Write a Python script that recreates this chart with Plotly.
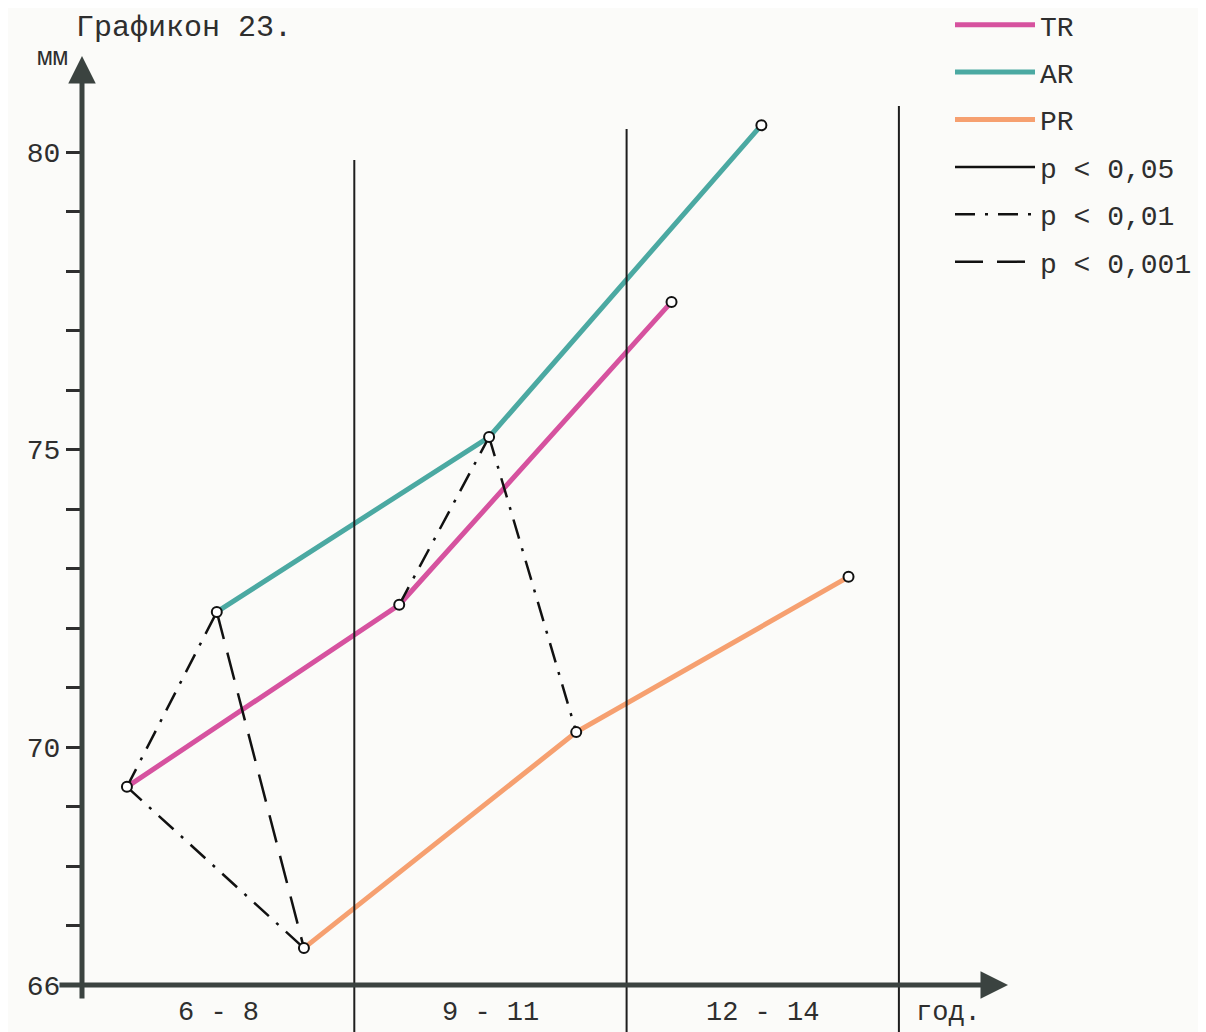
import plotly.graph_objects as go

# --- data (values in mm) ---
GROUPS = ["6 - 8", "9 - 11", "12 - 14"]
TR = [69.33, 72.39, 77.48]
AR = [72.27, 75.21, 80.45]
PR = [66.62, 70.25, 72.86]

Y_TICKS = list(range(66, 81))
Y_TICK_LABELS = ["66", "", "", "", "70", "", "", "", "", "75", "", "", "", "", "80"]

# significance links inside an age group: from series -> to series, level
LINK_GROUP = [0, 0, 0, 1, 1]
LINK_FROM = ["TR", "AR", "TR", "TR", "AR"]
LINK_TO = ["AR", "PR", "PR", "AR", "PR"]
LINK_LEVEL = ["p < 0,01", "p < 0,001", "p < 0,01", "p < 0,01", "p < 0,01"]
P_LEVELS = ["p < 0,05", "p < 0,01", "p < 0,001"]

SERIES = {"TR": TR, "AR": AR, "PR": PR}
COLORS = {"TR": "#d6529f", "AR": "#4ba9a2", "PR": "#f6a070"}
OFFSETS = {"TR": -0.335, "AR": -0.005, "PR": 0.315}
DASHES = {"p < 0,05": "solid", "p < 0,01": "20px,10px,3px,10px", "p < 0,001": "28px,14px"}

FONT = "Liberation Mono"
INK = "#2e2e2e"
AXIS = "#3b4340"
BG = "#fbfbf9"

# the page has an 8px body margin, so the figure is drawn 8px in from the
# screenshot's corner; helpers below work in screenshot pixels.
PAGE = 8
W, H = 1206 - PAGE, 1032 - PAGE
PLOT_L, PLOT_T = 82, 40            # screenshot px of plot area corner
PLOT_W, PLOT_H = 1206 - PLOT_L, 1032 - PLOT_T
PX_PER_X = 272.3
PX_PER_Y = 59.5


def px2x(px):
    return -0.5 + (px - 82) / PX_PER_X


def py2y(py):
    return 66 + (985 - py) / PX_PER_Y


def paper_x(px):
    return (px - PLOT_L) / PLOT_W


def paper_y(py):
    return (1032 - py) / PLOT_H


def xs(name):
    return [i + OFFSETS[name] for i in range(len(GROUPS))]


fig = go.Figure()

for name, vals in SERIES.items():
    fig.add_trace(go.Scatter(
        x=xs(name), y=vals, mode="lines", name=name, legendgroup=name,
        line={"color": COLORS[name], "width": 5},
        hoverinfo="skip",
    ))

for lvl in P_LEVELS:
    fig.add_trace(go.Scatter(
        x=[None], y=[None], mode="lines", name=lvl, legendgroup=lvl,
        line={"color": "#111", "width": 2.5, "dash": DASHES[lvl]},
    ))

for g, a, b, lvl in zip(LINK_GROUP, LINK_FROM, LINK_TO, LINK_LEVEL):
    fig.add_trace(go.Scatter(
        x=[g + OFFSETS[a], g + OFFSETS[b]],
        y=[SERIES[a][g], SERIES[b][g]],
        mode="lines", showlegend=False, legendgroup=lvl,
        line={"color": "#111", "width": 2.5, "dash": DASHES[lvl]},
        hoverinfo="skip",
    ))

for name, vals in SERIES.items():
    fig.add_trace(go.Scatter(
        x=xs(name), y=vals, mode="markers", showlegend=False,
        marker={"symbol": "circle", "size": 10, "color": "white",
                "line": {"color": "#111", "width": 2}},
        hovertemplate=name + ": %{y} мм<extra></extra>",
    ))

# group separators
tops = [py2y(160), py2y(129), py2y(106)]
for i, top in enumerate(tops):
    fig.add_shape(type="line", x0=i + 0.5, x1=i + 0.5, y0=py2y(1040), y1=top,
                  line={"color": "#1e1e1e", "width": 2})

annotations = [
    # axes with arrowheads
    dict(x=-0.5, y=py2y(56), ax=-0.5, ay=py2y(1000), axref="x", ayref="y",
         showarrow=True, arrowhead=2, arrowsize=1.1, arrowwidth=5, arrowcolor=AXIS, text=""),
    dict(x=px2x(1008), y=66, ax=px2x(58), ay=66, axref="x", ayref="y",
         showarrow=True, arrowhead=2, arrowsize=1.1, arrowwidth=5, arrowcolor=AXIS, text=""),
    dict(x=paper_x(74), y=paper_y(28), xref="paper", yref="paper", text="Графикон 23.",
         xanchor="left", yanchor="middle", showarrow=False,
         font={"family": FONT, "size": 30, "color": INK}),
    dict(x=paper_x(70), y=paper_y(58), xref="paper", yref="paper", text="мм",
         xanchor="right", yanchor="middle", showarrow=False,
         font={"family": FONT, "size": 26, "color": INK}),
    dict(x=px2x(948), y=py2y(1013), text="год.", showarrow=False,
         font={"family": FONT, "size": 27, "color": INK}),
]
for i, g in enumerate(GROUPS):
    annotations.append(dict(x=i, y=py2y(1013), text=g, showarrow=False,
                            font={"family": FONT, "size": 27, "color": INK}))

fig.update_layout(
    width=W,
    height=H,
    margin={"l": PLOT_L - PAGE, "r": 0, "t": PLOT_T - PAGE, "b": 0, "autoexpand": False},
    paper_bgcolor=BG,
    plot_bgcolor=BG,
    font={"family": FONT, "size": 28, "color": INK},
    xaxis={"range": [-0.5, px2x(1206)], "visible": False},
    yaxis={
        "range": [py2y(1032), py2y(PLOT_T)],
        "tickvals": Y_TICKS,
        "ticktext": Y_TICK_LABELS,
        "ticks": "outside",
        "ticklen": 15,
        "tickwidth": 2.5,
        "tickcolor": INK,
        "showgrid": False,
        "zeroline": False,
        "showline": False,
        "tickfont": {"family": FONT, "size": 28, "color": INK},
    },
    legend={
        "x": paper_x(950), "y": paper_y(0),
        "xanchor": "left", "yanchor": "top",
        "bgcolor": "rgba(0,0,0,0)",
        "itemwidth": 80,
        "tracegroupgap": 8,
        "font": {"family": FONT, "size": 28, "color": INK},
    },
    annotations=annotations,
    showlegend=True,
)

fig.write_html("out.html")
